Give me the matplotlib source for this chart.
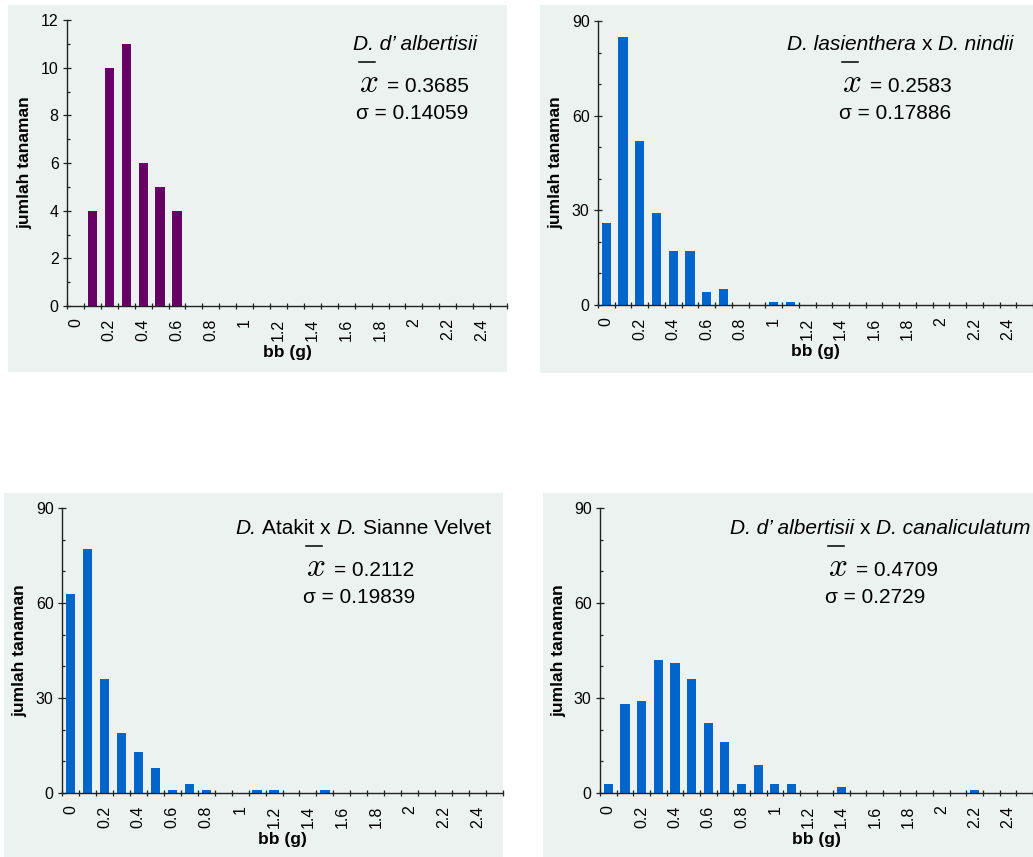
import matplotlib
matplotlib.use("Agg")
import matplotlib.pyplot as plt
import numpy as np
from matplotlib.lines import Line2D
from matplotlib.patches import Rectangle
from matplotlib.ticker import MultipleLocator

plt.rcParams["font.family"] = ["Liberation Sans", "DejaVu Sans"]

W, H = 1033, 857
BG = "#EBF2EF"
PURPLE = "#660066"
BLUE = "#0066CC"

# weight classes (g), one bar slot per class
categories = ["0", "0.1", "0.2", "0.3", "0.4", "0.5", "0.6", "0.7", "0.8", "0.9",
              "1", "1.1", "1.2", "1.3", "1.4", "1.5", "1.6", "1.7", "1.8", "1.9",
              "2", "2.1", "2.2", "2.3", "2.4", "2.5"]

counts_albertisii = [0, 4, 10, 11, 6, 5, 4, 0, 0, 0, 0, 0, 0,
                     0, 0, 0, 0, 0, 0, 0, 0, 0, 0, 0, 0, 0]
counts_lasien_nindii = [26, 85, 52, 29, 17, 17, 4, 5, 0, 0, 1, 1, 0,
                        0, 0, 0, 0, 0, 0, 0, 0, 0, 0, 0, 0, 0]
counts_atakit_sianne = [63, 77, 36, 19, 13, 8, 1, 3, 1, 0, 0, 1, 1,
                        0, 0, 1, 0, 0, 0, 0, 0, 0, 0, 0, 0, 0]
counts_albert_canal = [3, 28, 29, 42, 41, 36, 22, 16, 3, 9, 3, 3, 0,
                       0, 2, 0, 0, 0, 0, 0, 0, 0, 1, 0, 0, 0]

titles = [
    [("D. d\u2019 albertisii", "italic")],
    [("D. lasienthera", "italic"), ("x", "normal"), ("D. nindii", "italic")],
    [("D.", "italic"), ("Atakit x", "normal"), ("D.", "italic"), ("Sianne Velvet", "normal")],
    [("D. d\u2019 albertisii", "italic"), ("x", "normal"), ("D. canaliculatum", "italic")],
]
means = ["0.3685", "0.2583", "0.2112", "0.4709"]
sigmas = ["0.14059", "0.17886", "0.19839", "0.2729"]

# layout in pixels (left, top, right, bottom)
panels = [
    dict(counts=counts_albertisii, color=PURPLE, ymax=12, major=2, minor=1,
         box=(67, 20, 507, 306), bg=(8, 5, 507, 372),
         title_at=(477, 50), stats_x=356, mean_y=92, sd_y=119),
    dict(counts=counts_lasien_nindii, color=BLUE, ymax=90, major=30, minor=10,
         box=(598, 21, 1033, 305), bg=(540, 5, 1033, 373),
         title_at=(1013, 50), stats_x=839, mean_y=92, sd_y=119),
    dict(counts=counts_atakit_sianne, color=BLUE, ymax=90, major=30, minor=10,
         box=(62, 508, 503, 793), bg=(4, 493, 503, 857),
         title_at=(491, 534), stats_x=303, mean_y=576, sd_y=603),
    dict(counts=counts_albert_canal, color=BLUE, ymax=90, major=30, minor=10,
         box=(600, 508, 1033, 793), bg=(543, 493, 1033, 857),
         title_at=(1030, 534), stats_x=825, mean_y=576, sd_y=603),
]


def fx(x):
    return x / W


def fy(y):
    return 1 - y / H


fig = plt.figure(figsize=(W / 100, H / 100), dpi=100)

for i, p in enumerate(panels):
    x0, y0, x1, y1 = p["bg"]
    fig.add_artist(Rectangle((fx(x0), fy(y1)), (x1 - x0) / W, (y1 - y0) / H,
                             transform=fig.transFigure, facecolor=BG,
                             edgecolor="none", zorder=-5))

    l, t, r, b = p["box"]
    ax = fig.add_axes([fx(l), fy(b), (r - l) / W, (b - t) / H])
    ax.set_facecolor("none")
    pos = np.arange(len(categories))
    ax.bar(pos, p["counts"], width=0.55, color=p["color"], zorder=2)
    ax.set_xlim(-0.5, len(categories) - 0.5)
    ax.set_ylim(0, p["ymax"])

    for s in ("top", "right"):
        ax.spines[s].set_visible(False)
    for s in ("left", "bottom"):
        ax.spines[s].set_color("#222222")
        ax.spines[s].set_linewidth(1.0)

    ax.set_xticks(pos[::2])
    ax.set_xticklabels(categories[::2], rotation=90, ha="center", va="top",
                       fontsize=11.5)
    ax.set_xticks(np.arange(-0.5, len(categories), 1), minor=True)
    ax.tick_params(axis="x", which="major", length=0, pad=9)
    ax.tick_params(axis="x", which="minor", direction="inout", length=5,
                   width=0.9, color="#222222")

    ax.yaxis.set_major_locator(MultipleLocator(p["major"]))
    ax.yaxis.set_minor_locator(MultipleLocator(p["minor"]))
    ax.tick_params(axis="y", which="major", direction="inout", length=6,
                   width=0.9, color="#222222", labelsize=11.5, pad=3)
    ax.tick_params(axis="y", which="minor", direction="in", length=2.5,
                   width=0.9, color="#222222")

    ax.set_ylabel("jumlah tanaman", fontsize=12.5, fontweight="bold")
    ax.yaxis.set_label_coords(-0.079, 0.5)
    ax.set_xlabel("bb (g)", fontsize=12.5, fontweight="bold")
    ax.xaxis.set_label_coords(0.5, -0.137)

    # species title, built right to left so it ends at title_at
    tx, ty = p["title_at"]
    pieces = titles[i]
    prev = None
    for text, style in reversed(pieces):
        if prev is None:
            prev = ax.annotate(text, xy=(fx(tx), fy(ty)), xycoords="figure fraction",
                               ha="right", va="baseline", fontsize=15, style=style)
        else:
            prev = ax.annotate(text, xy=(0, 0), xycoords=prev,
                               xytext=(-4, 0), textcoords="offset points",
                               ha="right", va="bottom", fontsize=15, style=style)

    sx = p["stats_x"]
    fig.text(fx(sx + 3), fy(p["mean_y"]), r"$x$", math_fontfamily="cm",
             fontsize=24, va="baseline", ha="left")
    fig.text(fx(sx + 31), fy(p["mean_y"]), "= " + means[i], fontsize=15,
             va="baseline", ha="left")
    fig.add_artist(Line2D([fx(sx + 3), fx(sx + 19)],
                          [fy(p["mean_y"] - 30)] * 2,
                          transform=fig.transFigure, color="black", lw=1.1))
    fig.text(fx(sx), fy(p["sd_y"]), "\u03c3 = " + sigmas[i], fontsize=15,
             va="baseline", ha="left")

fig.savefig("out.png", dpi=100, facecolor="white")
